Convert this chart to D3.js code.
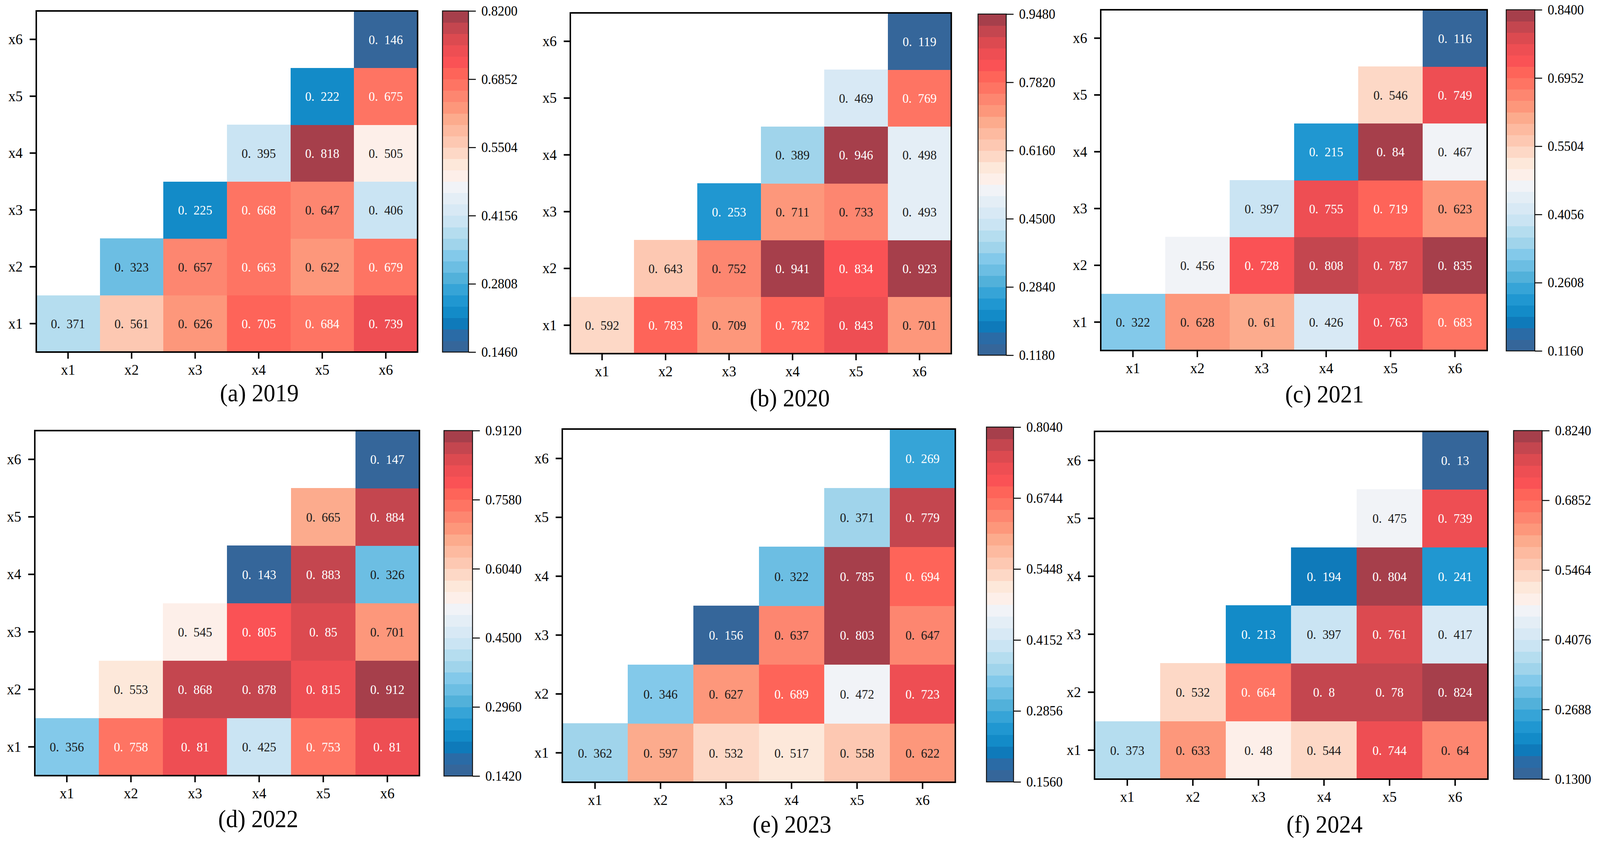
<!DOCTYPE html>
<html><head><meta charset="utf-8">
<script src="https://cdn.jsdelivr.net/npm/d3@7"></script>
<style>html,body{margin:0;padding:0;background:#fff;width:100%;height:100%;overflow:hidden;} svg{display:block;width:100vw;height:100vh;}</style>
</head><body>
<svg id="chart" viewBox="0 0 4368 2160" preserveAspectRatio="none"></svg>
<script>
// ---------- DATA ----------
const factors = ["x1","x2","x3","x4","x5","x6"];
const panelTitles = ["(a) 2019","(b) 2020","(c) 2021","(d) 2022","(e) 2023","(f) 2024"];
// each row = factor xi, values for columns xi..x6
const values2019 = [
  [0.371,0.561,0.626,0.705,0.684,0.739],
  [0.323,0.657,0.663,0.622,0.679],
  [0.225,0.668,0.647,0.406],
  [0.395,0.818,0.505],
  [0.222,0.675],
  [0.146]
];
const values2020 = [
  [0.592,0.783,0.709,0.782,0.843,0.701],
  [0.643,0.752,0.941,0.834,0.923],
  [0.253,0.711,0.733,0.493],
  [0.389,0.946,0.498],
  [0.469,0.769],
  [0.119]
];
const values2021 = [
  [0.322,0.628,0.61,0.426,0.763,0.683],
  [0.456,0.728,0.808,0.787,0.835],
  [0.397,0.755,0.719,0.623],
  [0.215,0.84,0.467],
  [0.546,0.749],
  [0.116]
];
const values2022 = [
  [0.356,0.758,0.81,0.425,0.753,0.81],
  [0.553,0.868,0.878,0.815,0.912],
  [0.545,0.805,0.85,0.701],
  [0.143,0.883,0.326],
  [0.665,0.884],
  [0.147]
];
const values2023 = [
  [0.362,0.597,0.532,0.517,0.558,0.622],
  [0.346,0.627,0.689,0.472,0.723],
  [0.156,0.637,0.803,0.647],
  [0.322,0.785,0.694],
  [0.371,0.779],
  [0.269]
];
const values2024 = [
  [0.373,0.633,0.48,0.544,0.744,0.64],
  [0.532,0.664,0.8,0.78,0.824],
  [0.213,0.397,0.761,0.417],
  [0.194,0.804,0.241],
  [0.475,0.739],
  [0.13]
];
const cbarTicks2019 = [0.1460,0.2808,0.4156,0.5504,0.6852,0.8200];
const cbarTicks2020 = [0.1180,0.2840,0.4500,0.6160,0.7820,0.9480];
const cbarTicks2021 = [0.1160,0.2608,0.4056,0.5504,0.6952,0.8400];
const cbarTicks2022 = [0.1420,0.2960,0.4500,0.6040,0.7580,0.9120];
const cbarTicks2023 = [0.1560,0.2856,0.4152,0.5448,0.6744,0.8040];
const cbarTicks2024 = [0.1300,0.2688,0.4076,0.5464,0.6852,0.8240];

const allValues = [values2019,values2020,values2021,values2022,values2023,values2024];
const allTicks = [cbarTicks2019,cbarTicks2020,cbarTicks2021,cbarTicks2022,cbarTicks2023,cbarTicks2024];

// ---------- STYLE / LAYOUT ----------
// 30-step palette, low -> high
const palette = [
 "#35669a","#2a6ba6","#0f7aba","#138bc8","#2097d1","#36a4d7","#52b1da","#6cbee3",
 "#83c9ea","#a0d4eb","#b5ddef","#cae4f3","#d8e9f5","#e4eef6","#f1f3f7","#fdefe9",
 "#fde8da","#fdd8c6","#fdc8b2","#fdbaa0","#fcab8d","#fd977b","#fd8670","#fe7463",
 "#fe6459","#fa5255","#ee4e53","#dc4a50","#c4464f","#a63f4b"
];
const textColors = palette.map((c,i)=> (i<=6 || i>=23) ? "#ffffff" : "#1a1a1a");

const layout = [
  {plot:[99,28,1140,901],   cbar:[1208,1279,28,901],  title:[708,1027]},
  {plot:[1557,33,2597,905], cbar:[2670,2747,36,909],  title:[2156,1040]},
  {plot:[3005,25,4060,897], cbar:[4112,4190,25,898],  title:[3616,1030]},
  {plot:[95,1102,1145,1985],cbar:[1212,1290,1102,1986],title:[705,2117]},
  {plot:[1535,1098,2608,2002],cbar:[2693,2767,1093,2001],title:[2162,2131]},
  {plot:[2988,1104,4062,1994],cbar:[4132,4210,1102,1994],title:[3616,2131]}
];
const serif = "'Liberation Serif','Times New Roman',serif";

const svg = d3.select("#chart");

allValues.forEach((vals, p) => {
  const L = layout[p];
  const ticks = allTicks[p];
  const vmin = ticks[0], vmax = ticks[ticks.length-1];
  const [x0,y0,x1,y1] = L.plot;
  const g = svg.append("g");

  const x = d3.scaleBand().domain(factors).range([x0,x1]);
  const y = d3.scaleBand().domain(factors.slice().reverse()).range([y0,y1]);
  const color = d3.scaleQuantize().domain([vmin,vmax]).range(palette);
  const tcolor = d3.scaleQuantize().domain([vmin,vmax]).range(textColors);

  const cells = [];
  vals.forEach((row,i) => row.forEach((v,k) => cells.push({r:factors[i], c:factors[i+k], v})));

  g.selectAll("rect.cell").data(cells).join("rect")
    .attr("class","cell")
    .attr("x", d=>x(d.c)).attr("y", d=>y(d.r))
    .attr("width", x.bandwidth()+0.6).attr("height", y.bandwidth()+0.6)
    .attr("fill", d=>color(d.v))
    .attr("shape-rendering","crispEdges");

  g.selectAll("text.cell").data(cells).join("text")
    .attr("class","cell")
    .attr("x", d=>x(d.c)+x.bandwidth()/2)
    .attr("y", d=>y(d.r)+y.bandwidth()/2)
    .attr("dy","0.35em")
    .attr("text-anchor","middle")
    .attr("font-family", serif)
    .attr("font-size", 34)
    .attr("fill", d=>tcolor(d.v))
    .text(d => String(d.v).replace("0.", "0.\u2002"));

  // frame
  g.append("rect").attr("x",x0).attr("y",y0).attr("width",x1-x0).attr("height",y1-y0)
    .attr("fill","none").attr("stroke","#000").attr("stroke-width",4);

  const xa = g.append("g").attr("transform",`translate(0,${y1})`)
    .call(d3.axisBottom(x).tickSize(17).tickPadding(13));
  const ya = g.append("g").attr("transform",`translate(${x0},0)`)
    .call(d3.axisLeft(y).tickSize(18).tickPadding(19));
  [xa,ya].forEach(a => {
    a.select(".domain").remove();
    a.selectAll("line").attr("stroke","#000").attr("stroke-width",4);
    a.selectAll("text").attr("font-family",serif).attr("font-size",39).attr("fill","#000");
  });

  // colorbar
  const [cx0,cx1,cy0,cy1] = L.cbar;
  const cs = d3.scaleLinear().domain([vmin,vmax]).range([cy1,cy0]);
  const step = (vmax-vmin)/palette.length;
  const bands = palette.map((c,i)=>({lo:vmin+i*step, hi:vmin+(i+1)*step, c}));
  g.selectAll("rect.band").data(bands).join("rect")
    .attr("class","band")
    .attr("x",cx0).attr("width",cx1-cx0)
    .attr("y",d=>cs(d.hi)).attr("height",d=>cs(d.lo)-cs(d.hi)+0.6)
    .attr("fill",d=>d.c).attr("shape-rendering","crispEdges");
  g.append("rect").attr("x",cx0).attr("y",cy0).attr("width",cx1-cx0).attr("height",cy1-cy0)
    .attr("fill","none").attr("stroke","#111").attr("stroke-width",2.5);
  const ca = g.append("g").attr("transform",`translate(${cx1},0)`)
    .call(d3.axisRight(cs).tickValues(ticks).tickFormat(d3.format(".4f")).tickSize(20).tickPadding(15));
  ca.select(".domain").remove();
  ca.selectAll("line").attr("stroke","#000").attr("stroke-width",2.5);
  ca.selectAll("text").attr("font-family",serif).attr("font-size",36).attr("fill","#000");

  // title
  g.append("text").attr("x",L.title[0]).attr("y",L.title[1])
    .attr("text-anchor","middle").attr("font-family",serif).attr("font-size",64)
    .attr("fill","#000").text(panelTitles[p]);
});
</script>
</body></html>
